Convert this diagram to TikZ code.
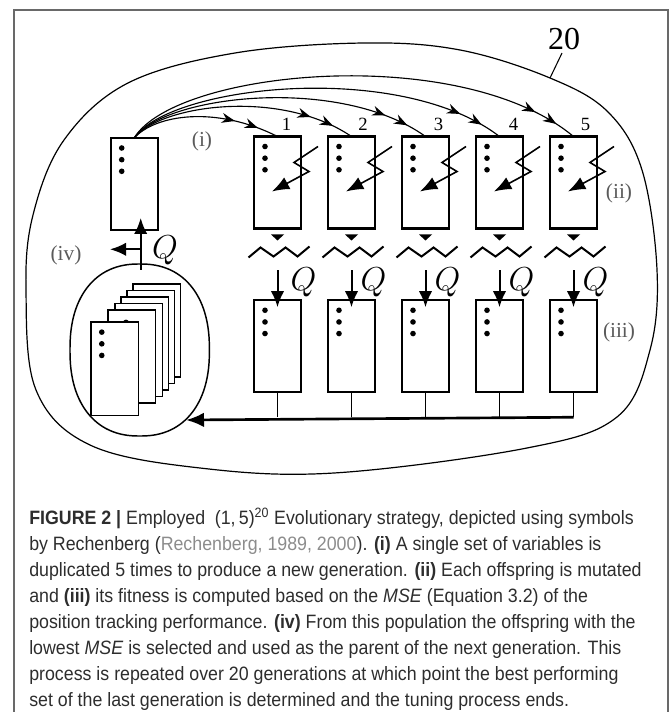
\documentclass[tikz,border=0pt]{standalone}
\usepackage{fontspec}
\setmainfont{Liberation Serif}
\newfontfamily\capfont[FakeStretch=0.92]{Liberation Sans}
\usetikzlibrary{arrows.meta,decorations.markings,calc}
\definecolor{framegray}{RGB}{105,105,105}
\definecolor{lblgray}{RGB}{90,90,90}
\definecolor{captext}{RGB}{45,45,45}
\definecolor{citegray}{RGB}{140,140,140}
\newcommand\mydots[1]{\foreach \dy in {10,21.7,33.3}{\fill ($(#1.north west)+(11,\dy)$) circle[radius=2.1pt];}}
\begin{document}
\begin{tikzpicture}[x=0.75pt,y=-0.75pt,
 gbox/.style={draw, line width=1.6pt, minimum width=35.25pt, minimum height=69pt, inner sep=0pt, outer sep=0pt, fill=white},
 card/.style={draw, line width=1.1pt, minimum width=35.6pt, minimum height=70pt, inner sep=0pt, outer sep=0pt, fill=white},
 genarc/.style={line width=0.85pt, postaction={decorate}, decoration={markings,
   mark=at position -34pt with {\arrow{Stealth[length=10pt,width=7.5pt]}},
   mark=at position -16pt with {\arrow{Stealth[length=10pt,width=7.5pt]}}}},
 qarrow/.style={line width=1.5pt, -{Latex[length=12pt,width=10pt]}},
 mutarrow/.style={line width=1.2pt, -{Latex[length=13pt,width=10pt]}},
 zig/.style={line width=1.5pt},
 lbl/.style={text=lblgray, font=\fontsize{16pt}{16pt}\selectfont, inner sep=0pt},
 numlbl/.style={font=\fontsize{14pt}{14pt}\selectfont, inner sep=0pt},
 qlbl/.style={font=\fontsize{25pt}{25pt}\selectfont, inner sep=0pt},
 capline/.style={anchor=base west, inner sep=0pt, text=captext, font=\capfont\fontsize{14.5pt}{19.5pt}\selectfont}
]
\useasboundingbox (0,0) rectangle (670,712);
\draw[framegray, line width=0.9pt] (14,712) -- (14,10) -- (668,10) -- (668,712);

% outer generation loop
\draw[line width=0.9pt] plot[smooth cycle, tension=0.6] coordinates {(26,290) (36,390) (90,445) (200,468) (334,473) (527,448) (617,417) (650,350) (657,270) (642,170) (608,112) (550,78) (460,50) (364,43) (235,53) (128,83) (64,140) (33,215)};
\node[font=\fontsize{24pt}{24pt}\selectfont, inner sep=0pt] (g20) at (564,39) {20};
\coordinate (lead) at (550,78);
\draw[line width=0.8pt] ($(g20.south)+(-2,3)$) -- (lead);

% parent
\node[gbox] (p) at (134.2,184) {};
\mydots{p}

% offspring
\foreach \k/\nx/\qx in {1/286.5/26, 2/363/22, 3/438.5/22, 4/513.5/22, 5/585.5/22}{
  \pgfmathsetmacro\cx{277.5+74*(\k-1)}
  \node[gbox] (t\k) at (\cx,182.5) {};
  \mydots{t\k}
  \node[numlbl] (n\k) at (\nx,124) {\k};
  \draw[mutarrow] ($(t\k.north west)+(64,10)$) -- ++(-24,16) -- ++(15,9) -- ($(t\k.north west)+(18,55)$);
  \fill ($(t\k.south)+(-6.5,6)$) -- ($(t\k.south)+(6.5,6)$) -- ($(t\k.south)+(0,12)$) -- cycle;
  \draw[zig] ($(t\k.south west)+(-5.5,29)$) -- ++(12,-10) -- ++(13,9) -- ++(12,-9) -- ++(12,9) -- ++(12,-10);
  \node[gbox] (b\k) at (\cx,346.25) {};
  \mydots{b\k}
  \draw[qarrow] ($(b\k.north)+(0,-30)$) -- ($(b\k.north)+(0,7)$);
  \node[qlbl] (q\k) at ($(b\k.north)+(\qx,-18)$) {$Q$};
  \draw[line width=0.75pt] (b\k.south) -- ($(b\k.south)+(0,25)$);
}

% duplication arcs
\draw[genarc] (p.north) .. controls (155,115) and (215,105) .. (t1.north);
\draw[genarc] (p.north) .. controls (160,105) and (280,88) .. (t2.north);
\draw[genarc] (p.north) .. controls (165,95) and (340,75) .. (t3.north);
\draw[genarc] (p.north) .. controls (170,85) and (400,60) .. (t4.north);
\draw[genarc] (p.north) .. controls (175,70) and (460,42) .. (t5.north);

% population
\draw[line width=1.1pt] plot[domain=1.5:358.5, samples=120, smooth cycle] ({139.7+69.7*sign(cos(\x))*abs(cos(\x))^0.87}, {350+86*sign(sin(\x))*abs(sin(\x))^0.87});
\node[card] (c6) at (156.75,330.5) {};
\node[card] (c5) at (150.5,337) {};
\node[card] (c4) at (144.75,343.5) {};
\node[card] (c3) at (138.75,350) {};
\node[card] (c2) at (131.75,356.5) {};
\fill (126,322.5) circle[radius=2.2pt];
\node[card] (c1) at (114.5,368.8) {};
\mydots{c1}

% selection bus
\coordinate (popE) at (186,420);
\draw[line width=2pt, -{Latex[length=13.5pt,width=11pt]}] ($(b5.south)+(0,25)$) -- (popE);

% selection of parent
\coordinate (popN) at (140.7,270);
\draw[qarrow] (popN) -- ($(popN |- p.south)+(0,-12)$);
\coordinate (ivS) at (140.7,249.3);
\coordinate (ivE) at (110,249.3);
\draw[qarrow] (ivS) -- (ivE);
\node[qlbl] (qp) at (165,250) {$Q$};

% labels
\node[lbl] (li) at (202,141.5) {(i)};
\node[lbl] (lii) at (619,193) {(ii)};
\node[lbl] (liii) at (619,332.5) {(iii)};
\node[lbl] (liv) at (66,255) {(iv)};

% caption
\node[capline] (cap1) at (29,524) {\textbf{FIGURE 2 |} Employed\enspace(1,\,5)\textsuperscript{20} Evolutionary strategy, depicted using symbols};
\node[capline] (cap2) at (29,550) {by Rechenberg ({\color{citegray}Rechenberg, 1989, 2000}). \textbf{(i)} A single set of variables is};
\node[capline] (cap3) at (29,576) {duplicated 5 times to produce a new generation. \textbf{(ii)} Each offspring is mutated};
\node[capline] (cap4) at (29,602) {and \textbf{(iii)} its fitness is computed based on the \textit{MSE} (Equation 3.2) of the};
\node[capline] (cap5) at (29,628) {position tracking performance. \textbf{(iv)} From this population the offspring with the};
\node[capline] (cap6) at (29,654) {lowest \textit{MSE} is selected and used as the parent of the next generation. This};
\node[capline] (cap7) at (29,680) {process is repeated over 20 generations at which point the best performing};
\node[capline] (cap8) at (29,706) {set of the last generation is determined and the tuning process ends.};
\end{tikzpicture}
\end{document}
